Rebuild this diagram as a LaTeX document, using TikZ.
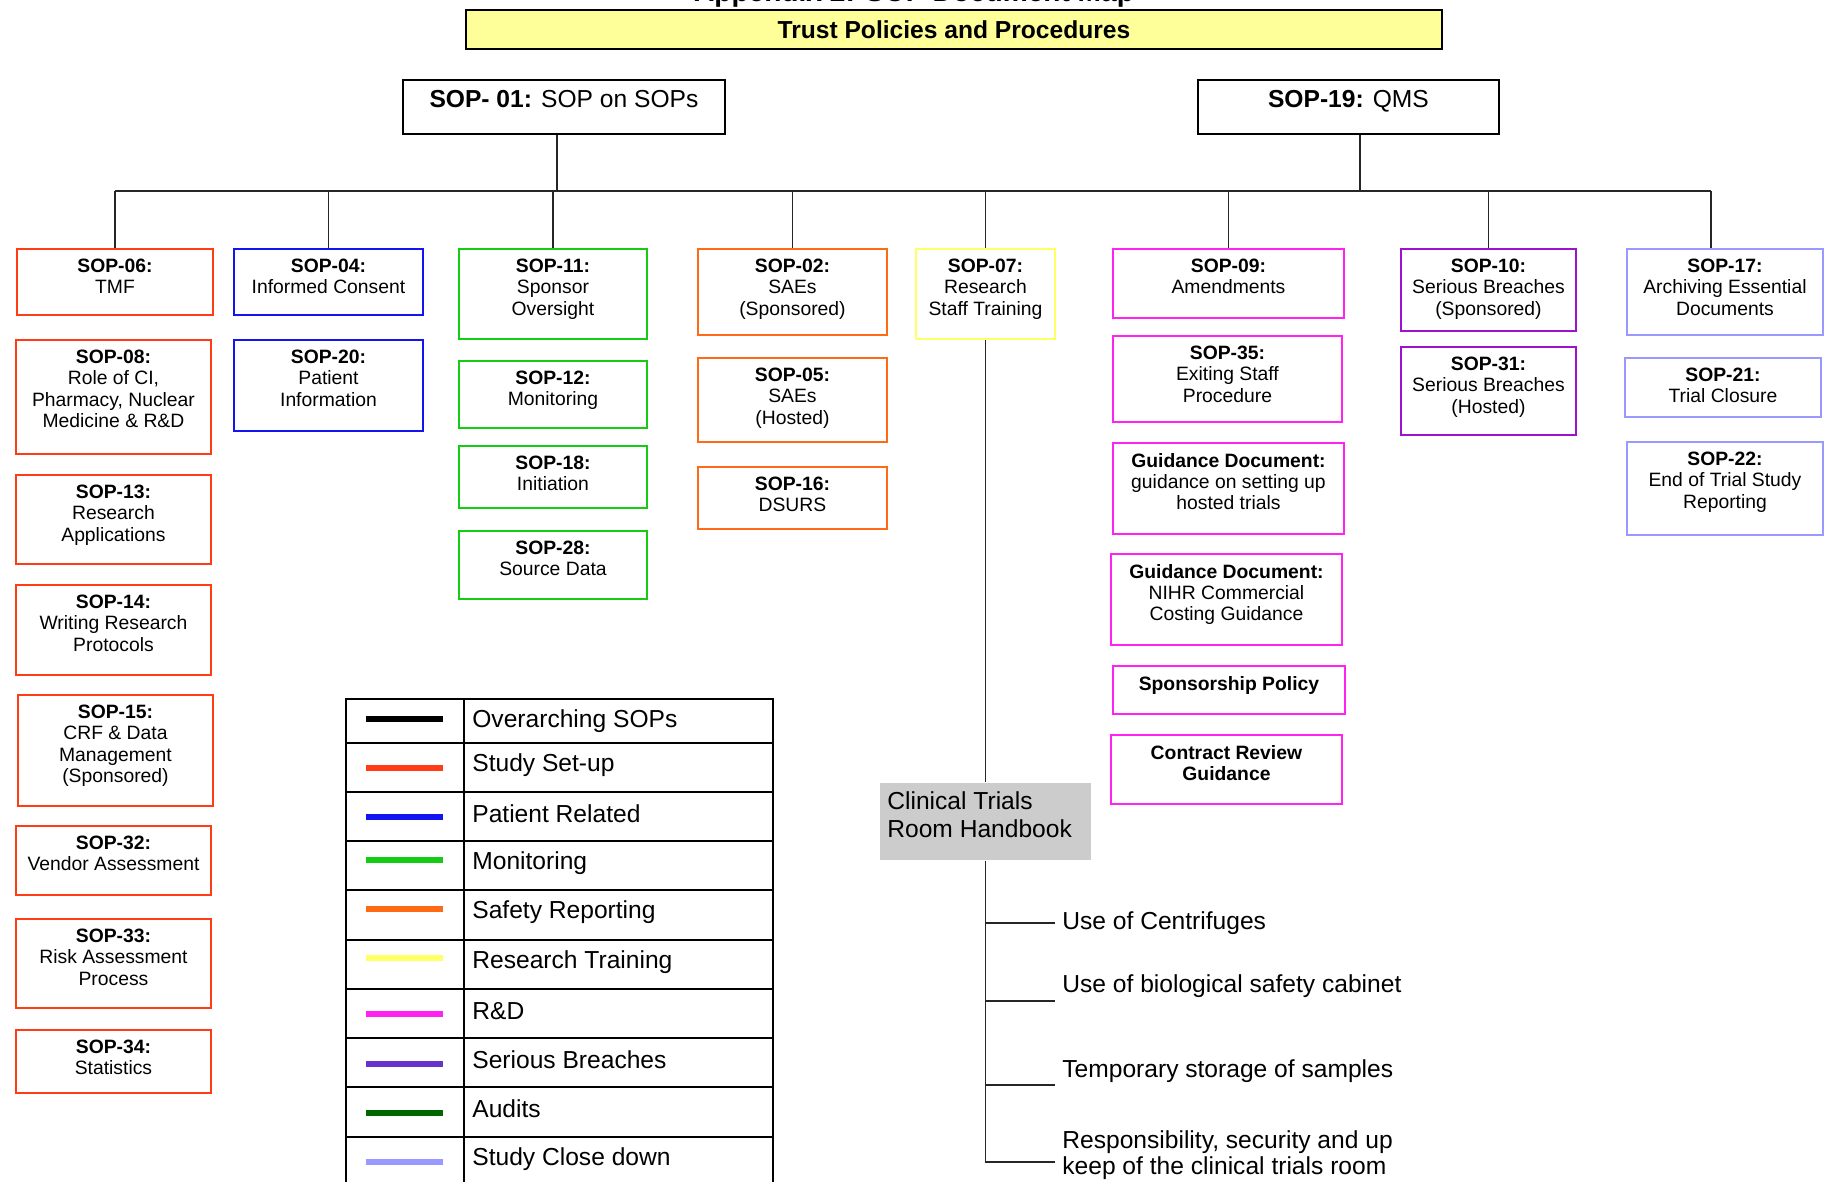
\documentclass[tikz,border=0pt]{standalone}
\usepackage{fontspec}
\setmainfont{Liberation Sans}
\definecolor{setup}{HTML}{FF3C14}
\definecolor{patient}{HTML}{1414F0}
\definecolor{monitor}{HTML}{14CC14}
\definecolor{safety}{HTML}{FF6A14}
\definecolor{training}{HTML}{FFFF66}
\definecolor{rnd}{HTML}{FF22F0}
\definecolor{breach}{HTML}{9914CC}
\definecolor{breachkey}{HTML}{6633CC}
\definecolor{audit}{HTML}{006600}
\definecolor{closedown}{HTML}{9999FF}
\definecolor{titlefill}{HTML}{FFFF99}
\definecolor{handbook}{HTML}{CCCCCC}

\begin{document}
\begin{tikzpicture}[x=0.02cm, y=-0.02cm,
    frame/.style={draw, line width=1.1pt, inner sep=0pt, anchor=north west},
    boxtext/.style={align=center, inner sep=0pt, anchor=north,
      font=\fontsize{11}{12}\selectfont},
    bigtext/.style={inner sep=0pt, font=\fontsize{14}{16}\selectfont},
    link/.style={line width=0.9pt, draw=black!85}]
  \useasboundingbox (0,0) rectangle (1827,1182);

  % heading (cut by the page edge) and top boxes
  \node [anchor=base, inner sep=0pt, font=\fontsize{16}{18}\selectfont\bfseries] (appx) at (914,1.5) {Appendix 2: SOP Document Map};
  \node [frame, fill=titlefill, minimum width={(1441-465)*0.02cm}, minimum height={(48-9)*0.02cm},
         font=\fontsize{14}{16}\selectfont\bfseries] (trust) at (465,9) {Trust Policies and Procedures};
  \node [frame, minimum width={(724-402)*0.02cm}, minimum height={(133-79)*0.02cm}] (sop01) at (402,79) {};
  \node [bigtext, anchor=north] (sop01t) at ([yshift=-0.22cm]sop01.north) {\textbf{SOP- 01:} SOP on SOPs};
  \node [frame, minimum width={(1498-1197)*0.02cm}, minimum height={(133-79)*0.02cm}] (sop19) at (1197,79) {};
  \node [bigtext, anchor=north] (sop19t) at ([yshift=-0.22cm]sop19.north) {\textbf{SOP-19:} QMS};

  % SOP boxes: name / colour / left / top / right / bottom / text
  \foreach \n/\c/\xa/\ya/\xb/\yb/\t in {
      s06/setup/16/248/212/314/{\textbf{SOP-06:}\\TMF},
      s08/setup/15/339/210/453/{\textbf{SOP-08:}\\Role of CI,\\Pharmacy, Nuclear\\Medicine \& R\&D},
      s13/setup/15/474/210/563/{\textbf{SOP-13:}\\Research\\Applications},
      s14/setup/15/584/210/674/{\textbf{SOP-14:}\\Writing Research\\Protocols},
      s15/setup/17/694/212/805/{\textbf{SOP-15:}\\CRF \& Data\\Management\\(Sponsored)},
      s32/setup/15/825/210/894/{\textbf{SOP-32:}\\Vendor Assessment},
      s33/setup/15/918/210/1007/{\textbf{SOP-33:}\\Risk Assessment\\Process},
      s34/setup/15/1029/210/1092/{\textbf{SOP-34:}\\Statistics},
      s04/patient/233/248/422/314/{\textbf{SOP-04:}\\Informed Consent},
      s20/patient/233/339/422/430/{\textbf{SOP-20:}\\Patient\\Information},
      s11/monitor/458/248/646/338/{\textbf{SOP-11:}\\Sponsor\\Oversight},
      s12/monitor/458/360/646/427/{\textbf{SOP-12:}\\Monitoring},
      s18/monitor/458/445/646/507/{\textbf{SOP-18:}\\Initiation},
      s28/monitor/458/530/646/598/{\textbf{SOP-28:}\\Source Data},
      s02/safety/697/248/886/334/{\textbf{SOP-02:}\\SAEs\\(Sponsored)},
      s05/safety/697/357/886/441/{\textbf{SOP-05:}\\SAEs\\(Hosted)},
      s16/safety/697/466/886/528/{\textbf{SOP-16:}\\DSURS},
      s07/training/915/248/1054/338/{\textbf{SOP-07:}\\Research\\Staff Training},
      s09/rnd/1112/248/1343/317/{\textbf{SOP-09:}\\Amendments},
      s35/rnd/1112/335/1341/421/{\textbf{SOP-35:}\\Exiting Staff\\Procedure},
      gd1/rnd/1112/442/1343/533/{\textbf{Guidance Document:}\\guidance on setting up\\hosted trials},
      gd2/rnd/1110/553/1341/644/{\textbf{Guidance Document:}\\NIHR Commercial\\Costing Guidance},
      spol/rnd/1112/665/1344/713/{\textbf{Sponsorship Policy}},
      crev/rnd/1110/734/1341/803/{\textbf{Contract Review}\\\textbf{Guidance}},
      s10/breach/1400/248/1575/330/{\textbf{SOP-10:}\\Serious Breaches\\(Sponsored)},
      s31/breach/1400/346/1575/434/{\textbf{SOP-31:}\\Serious Breaches\\(Hosted)},
      s17/closedown/1626/248/1822/334/{\textbf{SOP-17:}\\Archiving Essential\\Documents},
      s21/closedown/1624/357/1820/416/{\textbf{SOP-21:}\\Trial Closure},
      s22/closedown/1626/441/1822/534/{\textbf{SOP-22:}\\End of Trial Study\\Reporting}} {
    \node [frame, draw=\c, minimum width={(\xb-\xa)*0.02cm}, minimum height={(\yb-\ya)*0.02cm}] (\n) at (\xa,\ya) {};
    \node [boxtext] (\n t) at ([yshift=-0.22cm]\n.north) {\t};
  }

  % tree lines
  \coordinate (bus) at (0,191);
  \coordinate (drop01) at ([xshift=-0.14cm]sop01.south);
  \coordinate (drop19) at ([xshift=0.23cm]sop19.south);
  \coordinate (drop17) at ([xshift=-0.28cm]s17.north);
  \draw [link] (s06.north |- bus) -- (drop17 |- bus);
  \draw [link] (drop01) -- (drop01 |- bus);
  \draw [link] (drop19) -- (drop19 |- bus);
  \draw [link] (drop17) -- (drop17 |- bus);
  \foreach \n in {s06,s04,s11,s02,s07,s09,s10}
    \draw [link] (\n.north) -- (\n.north |- bus);

  % clinical trials room handbook
  \node [frame, fill=handbook, draw=none, minimum width={(1090-879)*0.02cm}, minimum height={(859-782)*0.02cm}] (hb) at (879,782) {};
  \node [bigtext, align=left, anchor=north west] (hbt) at (887,791) {Clinical Trials\\Room Handbook};
  \draw [link] (s07.south) -- (hb.north);
  \coordinate (b1) at (1055,923);
  \coordinate (b2) at (1055,1001);
  \coordinate (b3) at (1055,1085);
  \coordinate (b4) at (1055,1162);
  \draw [link] (hb.south) -- (hb.south |- b4);
  \foreach \b in {b1,b2,b3,b4}
    \draw [link] (hb.south |- \b) -- (\b);
  \node [bigtext, anchor=west] (r1) at (1062,923) {Use of Centrifuges};
  \node [bigtext, anchor=west] (r2) at (1062,986) {Use of biological safety cabinet};
  \node [bigtext, anchor=west] (r3) at (1062,1071) {Temporary storage of samples};
  \node [bigtext, anchor=west, align=left, font=\fontsize{14}{14.7}\selectfont] (r4) at (1062,1155) {Responsibility, security and up\\keep of the clinical trials room};

  % key
  \foreach \ya/\yb/\ys/\c/\t [count=\i] in {
      699/743/719/black/Overarching SOPs,
      743/792/768/setup/Study Set-up,
      792/841/817/patient/Patient Related,
      841/890/860/monitor/Monitoring,
      890/940/909/safety/Safety Reporting,
      940/989/958/training/Research Training,
      989/1038/1014/rnd/R\&D,
      1038/1087/1064/breachkey/Serious Breaches,
      1087/1137/1113/audit/Audits,
      1137/1192/1162/closedown/Study Close down} {
    \draw [line width=1.1pt] (346,\ya) rectangle (464,\yb) (464,\ya) rectangle (773,\yb);
    \draw [line width=3.6pt, draw=\c] (366,\ys) -- (443,\ys);
    \node [bigtext, anchor=west] (key\i) at (472,\ya+22) {\t};
  }
\end{tikzpicture}
\end{document}
